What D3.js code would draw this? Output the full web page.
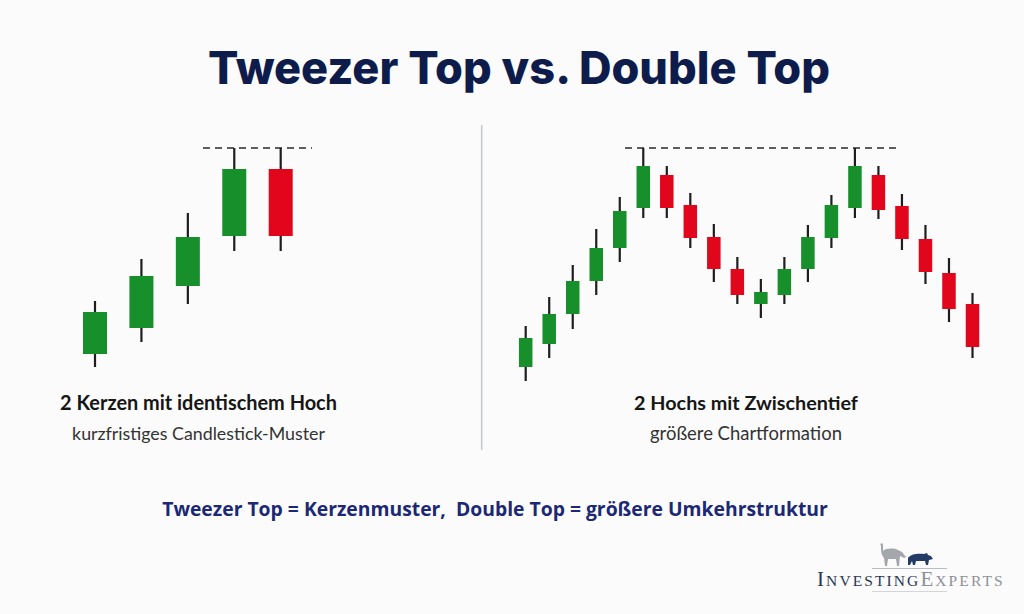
<!DOCTYPE html>
<html><head><meta charset="utf-8">
<script src="https://cdn.jsdelivr.net/npm/d3@7"></script>
<style>body{margin:0;background:#fbfbfb;overflow:hidden}</style>
</head><body>
<svg id="c" width="1024" height="614"></svg>
<script>
// ---- data ----
const leftOpen  = [44, 70, 112, 162, 229];
const leftHigh  = [97, 139, 185, 250, 250];
const leftLow   = [31, 56, 94, 147, 147];
const leftClose = [86, 122, 161, 229, 162];

const rightOpen  = [31, 54, 84, 117, 150, 190, 223, 193, 161, 129, 94, 103, 129, 160, 190, 223, 192, 159, 125, 94];
const rightHigh  = [72, 101, 133, 169, 201, 250, 232, 205, 174, 141, 119, 141, 173, 203, 250, 232, 204, 173, 140, 105];
const rightLow   = [17, 40, 69, 103, 136, 180, 180, 150, 116, 94, 80, 94, 116, 150, 180, 179, 148, 114, 76, 40];
const rightClose = [60, 84, 117, 150, 187, 232, 190, 160, 129, 103, 106, 129, 161, 193, 232, 188, 159, 126, 89, 51];

const resistance = 250;
const title = "Tweezer Top vs. Double Top";
const leftLabel = "2 Kerzen mit identischem Hoch";
const leftSub = "kurzfristiges Candlestick-Muster";
const rightLabel = "2 Hochs mit Zwischentief";
const rightSub = "größere Chartformation";
const footer = "Tweezer Top = Kerzenmuster,\u00a0\u00a0Double Top = größere Umkehrstruktur";

// ---- drawing ----
const svg = d3.select("#c");
svg.append("rect").attr("width",1024).attr("height",614).attr("fill","#fbfbfb");

const GREEN = "#17902c", RED = "#e2061c", WICK = "#1e1e1e";
const y = d3.scaleLinear().domain([0, 250]).range([398, 148]);

function fit(sel, w){
  const cur = sel.node().getComputedTextLength();
  const fs = parseFloat(sel.attr("font-size"));
  sel.attr("font-size", fs * w / cur);
}

function drawCandles(g, o, h, l, c, x, bw){
  const d = o.map((v,i)=>({o:v,h:h[i],l:l[i],c:c[i],i}));
  g.selectAll("line.w").data(d).join("line").attr("class","w")
    .attr("x1",e=>x(e.i)).attr("x2",e=>x(e.i))
    .attr("y1",e=>y(e.h)).attr("y2",e=>y(e.l))
    .attr("stroke",WICK).attr("stroke-width",2.2);
  g.selectAll("rect.b").data(d).join("rect").attr("class","b")
    .attr("x",e=>x(e.i)-bw/2).attr("width",bw)
    .attr("y",e=>y(Math.max(e.o,e.c)))
    .attr("height",e=>Math.abs(y(e.o)-y(e.c)))
    .attr("fill",e=>e.c>=e.o?GREEN:RED);
}

// title
const t = svg.append("text").attr("x",519).attr("y",84).attr("text-anchor","middle")
  .attr("font-family","Inter, 'Open Sans', sans-serif").attr("font-weight",800)
  .attr("font-size",46).attr("fill","#0e1c4b").text(title);
fit(t, 622);

// divider
svg.append("line").attr("x1",481.7).attr("x2",481.7).attr("y1",125).attr("y2",450)
  .attr("stroke","#c3c8d2").attr("stroke-width",1.5);

// left panel
const xl = d3.scaleLinear().domain([0, leftOpen.length-1]).range([95, 280.7]);
svg.append("line").attr("x1",203).attr("x2",312).attr("y1",y(resistance)).attr("y2",y(resistance))
  .attr("stroke","#2a2a2a").attr("stroke-width",1.6).attr("stroke-dasharray","7,5");
drawCandles(svg.append("g"), leftOpen, leftHigh, leftLow, leftClose, xl, 24);

// right panel
const xr = d3.scaleLinear().domain([0, rightOpen.length-1]).range([525.7, 972.5]);
svg.append("line").attr("x1",625).attr("x2",898).attr("y1",y(resistance)).attr("y2",y(resistance))
  .attr("stroke","#2a2a2a").attr("stroke-width",1.6).attr("stroke-dasharray","7,5");
drawCandles(svg.append("g"), rightOpen, rightHigh, rightLow, rightClose, xr, 13.5);

// labels
function label(x, yy, txt, w, weight, color, fs, fam){
  const s = svg.append("text").attr("x",x).attr("y",yy).attr("text-anchor","middle")
    .attr("font-family",fam || "Lato, 'Open Sans', sans-serif").attr("font-weight",weight)
    .attr("font-size",fs).attr("fill",color).text(txt);
  fit(s, w);
  return s;
}
label(198.5, 410, leftLabel, 277, 700, "#161616", 17);
label(198.5, 440, leftSub, 253, 400, "#333333", 15);
label(746, 410, rightLabel, 224, 700, "#161616", 17);
label(746, 440, rightSub, 192, 400, "#333333", 15);
label(495, 516, footer, 666, 700, "#1c2874", 19, "'Open Sans', sans-serif");

// logo
const logo = svg.append("g");
logo.append("path").attr("transform","translate(878,543)")
  .attr("d","M3,3 C1,0 5,-1 5,2 L5,8 C8,5 16,5 20,7 L24,9 L28,14 L26,15 L22,13 L21,23 L19,23 L18,16 L10,16 L9,23 L7,23 L6,15 C4,13 3,10 3,6 Z")
  .attr("fill","#a3a7ab");
logo.append("path").attr("transform","translate(908,553)")
  .attr("d","M0,5 C2,1 10,0 16,1 L19,0 L20,2 L23,3 L25,6 L21,7 L20,12 L18,12 L17,8 L8,8 L7,12 L5,12 L4,8 L2,12 L0,12 Z")
  .attr("fill","#243b68");
logo.append("line").attr("x1",872).attr("x2",947).attr("y1",568.5).attr("y2",568.5)
  .attr("stroke","#b9bcc2").attr("stroke-width",1);
const lt = logo.append("text").attr("x",817).attr("y",585.5)
  .attr("font-family","'Liberation Serif', 'DejaVu Serif', serif").attr("letter-spacing",2.1);
lt.append("tspan").attr("font-size",21).attr("fill","#2c3550").text("I");
lt.append("tspan").attr("font-size",15.5).attr("fill","#2c3550").text("NVESTING");
lt.append("tspan").attr("font-size",21).attr("fill","#8c9098").text("E");
lt.append("tspan").attr("font-size",15.5).attr("fill","#8c9098").text("XPERTS");
logo.append("line").attr("x1",872).attr("x2",947).attr("y1",591.5).attr("y2",591.5)
  .attr("stroke","#d3d5d9").attr("stroke-width",1);
</script>
</body></html>
